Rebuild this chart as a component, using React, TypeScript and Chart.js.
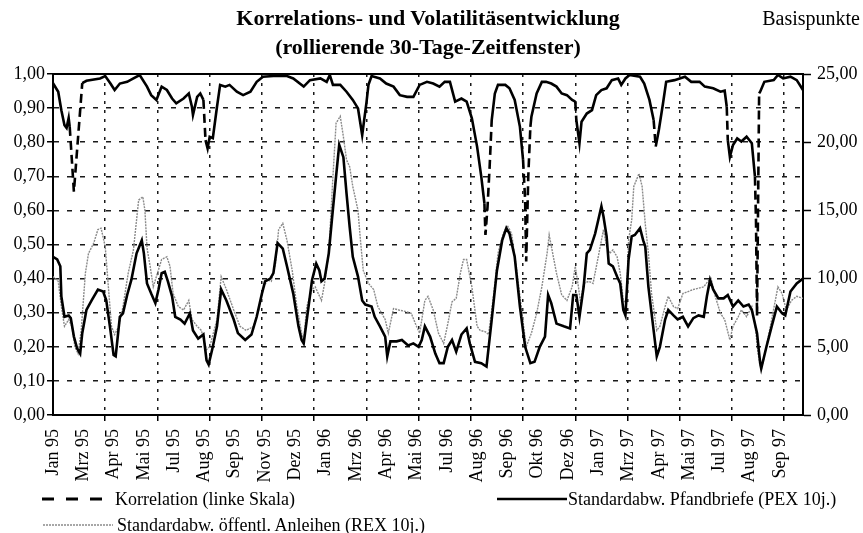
import React, { useEffect, useRef } from "react";
import { Chart, registerables } from "chart.js";

Chart.register(...registerables);

// ---- data -------------------------------------------------------------
// x = trading-day index since start of Jan 1995; labels every 29 days, grid every 50
const X_LABELS = [
  "Jan 95", "Mrz 95", "Apr 95", "Mai 95", "Jul 95", "Aug 95", "Sep 95", "Nov 95", "Dez 95",
  "Jan 96", "Mrz 96", "Apr 96", "Mai 96", "Jul 96", "Aug 96", "Sep 96", "Okt 96", "Dez 96",
  "Jan 97", "Mrz 97", "Apr 97", "Mai 97", "Jul 97", "Aug 97", "Sep 97",
];
const LABEL_STEP = 29;
const GRID_STEP = 50;
const X_MAX = 718;

const CORR_DAYS = [
  0, 5, 8, 11, 13, 15, 16, 20, 28, 32, 45, 50, 55, 59, 64, 71, 77, 83, 90, 94, 99, 104, 109, 114, 118,
  125, 130, 133, 134, 138, 141, 144, 146, 148, 150, 153, 157, 160, 165, 169, 176, 182, 189, 195, 201,
  211, 224, 230, 240, 246, 256, 262, 265, 268, 275, 281, 287, 292, 296, 300, 302, 305, 313, 319, 326,
  332, 339, 345, 351, 358, 364, 370, 375, 380, 385, 391, 396, 401, 406, 410, 413, 414, 416, 418, 420,
  423, 426, 433, 437, 442, 447, 450, 452, 453, 455, 457, 458, 463, 468, 472, 477, 482, 487, 492, 497,
  500, 501, 504, 506, 511, 516, 520, 525, 530, 535, 541, 544, 548, 552, 562, 566, 571, 575, 577, 580,
  584, 587, 595, 605, 611, 619, 624, 632, 639, 643, 645, 646, 648, 651, 655, 659, 664, 669, 672, 673,
  674, 676, 677, 681, 690, 694, 699, 706, 712, 718,
];
const CORR_VALUES = [
  0.973, 0.948, 0.894, 0.85, 0.842, 0.871, 0.845, 0.655, 0.973, 0.98, 0.987, 0.994, 0.972, 0.953, 0.972,
  0.977, 0.987, 0.997, 0.963, 0.938, 0.924, 0.963, 0.953, 0.928, 0.914, 0.928, 0.943, 0.904, 0.88,
  0.933, 0.943, 0.924, 0.806, 0.782, 0.816, 0.812, 0.904, 0.968, 0.963, 0.968, 0.948, 0.938, 0.948,
  0.977, 0.992, 0.994, 0.994, 0.987, 0.963, 0.982, 0.987, 0.977, 0.997, 0.968, 0.968, 0.948, 0.924,
  0.899, 0.821, 0.914, 0.968, 0.994, 0.987, 0.972, 0.963, 0.938, 0.933, 0.933, 0.968, 0.977, 0.972,
  0.963, 0.977, 0.977, 0.919, 0.928, 0.919, 0.87, 0.787, 0.699, 0.621, 0.528, 0.611, 0.728, 0.865,
  0.943, 0.968, 0.968, 0.958, 0.924, 0.845, 0.748, 0.63, 0.45, 0.7, 0.845, 0.875, 0.943, 0.977, 0.977,
  0.972, 0.963, 0.943, 0.938, 0.924, 0.919, 0.865, 0.797, 0.86, 0.884, 0.894, 0.938, 0.953, 0.958,
  0.982, 0.987, 0.968, 0.987, 0.997, 0.992, 0.972, 0.924, 0.865, 0.787, 0.836, 0.914, 0.977, 0.982,
  0.992, 0.977, 0.977, 0.963, 0.958, 0.948, 0.951, 0.904, 0.806, 0.757, 0.792, 0.811, 0.802, 0.816,
  0.797, 0.699, 0.57, 0.29, 0.943, 0.948, 0.977, 0.982, 0.997, 0.987, 0.992, 0.982, 0.953,
];

// Standard deviation Pfandbriefe (PEX 10j.), basis points
const PEX_DAYS = [
  0, 4, 7, 8, 11, 15, 17, 20, 23, 26, 28, 32, 37, 43, 48, 51, 55, 58, 60, 64, 67, 71, 75, 80, 85, 87,
  90, 94, 98, 101, 104, 107, 110, 114, 117, 122, 126, 131, 134, 139, 144, 147, 149, 153, 157, 161, 166,
  173, 177, 184, 190, 195, 200, 203, 208, 211, 215, 220, 224, 230, 235, 238, 240, 243, 248, 252, 255,
  257, 260, 264, 267, 271, 274, 278, 281, 284, 287, 292, 296, 299, 305, 308, 313, 318, 320, 323, 329,
  334, 340, 345, 350, 353, 356, 361, 366, 370, 374, 378, 382, 386, 391, 396, 399, 404, 410, 415, 420,
  425, 430, 434, 437, 442, 447, 452, 457, 461, 466, 471, 474, 477, 482, 489, 495, 498, 501, 504, 508,
  511, 514, 519, 522, 525, 527, 530, 532, 536, 540, 543, 546, 548, 551, 554, 557, 562, 565, 567, 570,
  575, 578, 581, 586, 589, 594, 598, 603, 608, 613, 618, 623, 626, 629, 632, 637, 642, 646, 651, 656,
  661, 666, 669, 674, 677, 678, 683, 688, 693, 698, 701, 706, 712, 718,
];
const PEX_VALUES = [
  11.6, 11.4, 10.9, 8.7, 7.2, 7.3, 7.1, 5.75, 4.9, 4.5, 6.0, 7.7, 8.4, 9.2, 9.05, 8.4, 6.2, 4.4, 4.3,
  7.2, 7.45, 8.8, 9.9, 11.85, 12.8, 11.85, 9.65, 8.9, 8.2, 9.2, 10.4, 10.5, 9.8, 8.7, 7.2, 7.0, 6.7,
  7.45, 6.2, 5.6, 5.9, 4.0, 3.7, 5.0, 6.5, 9.2, 8.4, 7.0, 6.0, 5.5, 5.9, 7.2, 8.9, 9.8, 10.0, 10.4, 12.6,
  12.2, 10.9, 8.9, 6.5, 5.5, 5.25, 7.0, 9.9, 11.1, 10.6, 9.8, 10.0, 11.85, 14.3, 17.5, 19.8, 18.9,
  16.25, 13.8, 11.6, 10.15, 8.4, 8.1, 7.95, 7.2, 6.5, 5.75, 4.3, 5.4, 5.4, 5.5, 5.1, 5.25, 5.0, 5.5,
  6.5, 5.75, 4.5, 3.8, 3.8, 5.0, 5.5, 4.65, 5.9, 6.35, 5.25, 3.9, 3.8, 3.55, 7.0, 10.6, 12.8, 13.7,
  13.3, 11.6, 7.95, 5.0, 3.8, 3.9, 5.0, 5.75, 8.8, 8.2, 6.7, 6.5, 6.35, 8.8, 8.8, 7.2, 9.4, 11.85,
  12.1, 13.3, 14.3, 15.3, 14.55, 13.1, 11.1, 10.9, 10.15, 9.65, 7.7, 7.3, 11.4, 13.1, 13.2, 13.7,
  12.8, 12.35, 9.4, 6.2, 4.3, 5.0, 7.0, 7.7, 7.3, 7.0, 7.2, 6.5, 7.1, 7.3, 7.2, 8.7, 9.9, 9.2, 8.55,
  8.55, 8.8, 7.95, 8.4, 7.95, 8.1, 7.7, 6.0, 3.8, 3.4, 5.0, 6.5, 7.95, 7.45, 7.3, 9.05, 9.65, 10.0,
];

// Standard deviation öffentl. Anleihen (REX 10j.), basis points
const REX_DAYS = [
  0, 5, 8, 11, 15, 18, 21, 24, 27, 31, 34, 39, 43, 46, 50, 53, 56, 59, 63, 67, 72, 77, 80, 82, 86, 88,
  90, 93, 96, 99, 104, 109, 112, 115, 120, 125, 130, 133, 138, 142, 147, 150, 157, 161, 166, 173, 179,
  185, 192, 197, 201, 205, 209, 213, 216, 220, 224, 229, 233, 238, 240, 243, 248, 251, 254, 257, 260,
  264, 268, 271, 275, 278, 281, 284, 287, 292, 294, 297, 302, 307, 311, 318, 321, 326, 331, 337, 343,
  348, 351, 356, 359, 364, 369, 374, 378, 382, 386, 390, 393, 396, 401, 406, 409, 414, 417, 422, 426,
  431, 435, 439, 444, 449, 453, 458, 463, 468, 473, 475, 479, 482, 487, 492, 497, 500, 503, 505, 508,
  513, 517, 522, 527, 530, 533, 536, 540, 543, 546, 549, 551, 554, 556, 561, 564, 567, 570, 573, 578,
  581, 586, 589, 594, 598, 603, 608, 613, 618, 623, 627, 630, 634, 639, 643, 648, 651, 656, 659, 664,
  669, 672, 675, 678, 681, 686, 691, 694, 698, 702, 707, 712, 718,
];
const REX_VALUES = [
  10.15, 9.8, 7.95, 6.5, 7.0, 6.5, 5.0, 4.5, 6.2, 10.4, 11.85, 12.6, 13.6, 13.7, 12.35, 9.4, 6.5, 5.9,
  6.5, 7.95, 10.4, 12.1, 14.3, 15.75, 16.0, 15.0, 12.25, 10.9, 9.4, 10.15, 11.4, 11.6, 10.9, 8.9, 7.95,
  7.7, 8.4, 7.0, 6.5, 6.2, 4.8, 5.0, 7.0, 10.15, 9.2, 7.7, 6.5, 6.2, 6.5, 7.7, 9.2, 9.9, 9.8, 11.1,
  13.6, 14.05, 12.8, 10.6, 8.2, 6.0, 5.5, 7.95, 9.2, 9.4, 8.9, 8.4, 9.65, 11.85, 17.5, 21.4, 21.9,
  20.4, 18.7, 18.2, 16.75, 15.0, 13.1, 10.6, 9.65, 9.2, 7.95, 7.0, 6.0, 7.8, 7.7, 7.6, 7.45, 6.5, 6.0,
  8.4, 8.7, 7.7, 6.0, 5.25, 6.7, 8.3, 8.55, 10.4, 11.4, 11.4, 9.4, 6.5, 6.2, 6.1, 5.9, 8.9, 11.85,
  13.3, 13.9, 13.3, 10.6, 7.45, 5.0, 6.0, 7.45, 9.4, 11.85, 13.2, 11.6, 10.4, 8.8, 8.4, 9.4, 10.9,
  9.4, 8.2, 9.65, 9.8, 9.65, 11.6, 13.6, 12.35, 11.85, 12.1, 11.6, 10.4, 8.4, 8.2, 12.8, 14.3, 16.75,
  17.7, 16.75, 14.0, 11.85, 8.9, 6.2, 6.5, 7.95, 8.7, 7.95, 7.8, 8.9, 9.05, 9.2, 9.3, 9.4, 9.8, 10.0,
  8.7, 7.45, 7.0, 5.5, 6.5, 7.2, 7.7, 7.2, 7.95, 6.7, 4.5, 3.3, 4.3, 6.2, 8.2, 9.4, 8.9, 7.7, 8.4, 8.7,
  8.55,
];

const LEFT_TICK_STEP = 0.1;
const RIGHT_TICK_STEP = 5;

const TITLE_1 = "Korrelations- und Volatilitäsentwicklung";
const TITLE_2 = "(rollierende 30-Tage-Zeitfenster)";
const RIGHT_UNIT = "Basispunkte";
const SERIES_NAMES = [
  "Korrelation (linke Skala)",
  "Standardabw. Pfandbriefe (PEX 10j.)",
  "Standardabw. öffentl. Anleihen (REX 10j.)",
];

// ---- helpers ----------------------------------------------------------
const toPoints = (xs: number[], ys: number[]) => xs.map((x, i) => ({ x, y: ys[i] }));
const fmt = (v: number) => Number(v).toFixed(2).replace(".", ",");
const SERIF = "'Liberation Serif', 'DejaVu Serif', serif";
const GRID_COLOR = "#1a1a1a";
const REX_COLOR = "#8a8a8a";

const framePlugin = {
  id: "frame",
  beforeDatasetsDraw(chart: any) {
    const { ctx, chartArea: a } = chart;
    ctx.save();
    ctx.strokeStyle = "#000";
    ctx.lineWidth = 2;
    ctx.strokeRect(a.left, a.top, a.right - a.left, a.bottom - a.top);
    ctx.restore();
  },
};

export default function App() {
  const ref = useRef<HTMLCanvasElement | null>(null);

  useEffect(() => {
    if (!ref.current) return;
    const labelTicks = X_LABELS.map((_, i) => i * LABEL_STEP);
    const gridTicks: number[] = [];
    for (let v = GRID_STEP; v < X_MAX; v += GRID_STEP) gridTicks.push(v);
    const allTicks = Array.from(new Set([...labelTicks, ...gridTicks])).sort((a, b) => a - b);
    const isGrid = (v: number) => v > 0 && v < X_MAX && v % GRID_STEP === 0;

    const chart = new Chart(ref.current, {
      type: "line",
      data: {
        datasets: [
          {
            label: SERIES_NAMES[0],
            data: toPoints(CORR_DAYS, CORR_VALUES),
            yAxisID: "y",
            borderColor: "#000",
            borderWidth: 2.6,
            pointRadius: 0,
            tension: 0,
            segment: {
              borderDash: (c: any) => {
                const dx = Math.abs(c.p1.x - c.p0.x);
                const dy = Math.abs(c.p1.y - c.p0.y);
                return dy > 10 && dy / Math.max(dx, 0.5) > 11 ? [9, 5] : undefined;
              },
            },
          },
          {
            label: SERIES_NAMES[1],
            data: toPoints(PEX_DAYS, PEX_VALUES),
            yAxisID: "y1",
            borderColor: "#000",
            borderWidth: 2.6,
            pointRadius: 0,
            tension: 0,
          },
          {
            label: SERIES_NAMES[2],
            data: toPoints(REX_DAYS, REX_VALUES),
            yAxisID: "y1",
            borderColor: REX_COLOR,
            borderWidth: 1.4,
            borderDash: [2, 1],
            pointRadius: 0,
            tension: 0,
          },
        ],
      },
      options: {
        animation: false,
        responsive: false,
        maintainAspectRatio: false,
        layout: { padding: { top: 74, left: 0, right: 0, bottom: 0 } },
        plugins: { legend: { display: false }, title: { display: false }, tooltip: { enabled: false } },
        scales: {
          x: {
            type: "linear",
            min: 0,
            max: X_MAX,
            afterBuildTicks: (s: any) => {
              s.ticks = allTicks.map((value) => ({ value }));
            },
            afterFit: (s: any) => {
              s.height = 118;
            },
            grid: {
              color: (c: any) => (c.tick && isGrid(c.tick.value) ? GRID_COLOR : "transparent"),
              tickColor: (c: any) => (c.tick && isGrid(c.tick.value) ? "#000" : "transparent"),
              lineWidth: 1.5,
              tickWidth: 1.5,
              tickLength: 6,
            },
            border: { display: true, color: "#000", width: 2, dash: [3, 6] },
            ticks: {
              autoSkip: false,
              maxRotation: 90,
              minRotation: 90,
              padding: 8,
              color: "#000",
              font: { family: SERIF, size: 18 },
              callback: (v: any) => (Number(v) % LABEL_STEP === 0 ? X_LABELS[Number(v) / LABEL_STEP] : ""),
            },
          },
          y: {
            position: "left",
            min: 0,
            max: 1,
            afterFit: (s: any) => {
              s.width = 53;
            },
            grid: {
              color: (c: any) =>
                c.tick && c.tick.value > 0.001 && c.tick.value < 0.999 ? GRID_COLOR : "transparent",
              tickColor: "#000",
              lineWidth: 1.5,
              tickWidth: 1.5,
              tickLength: 6,
            },
            border: { display: true, color: "#000", width: 2, dash: [5, 8] },
            ticks: {
              stepSize: LEFT_TICK_STEP,
              padding: 2,
              color: "#000",
              font: { family: SERIF, size: 18 },
              callback: (v: any) => fmt(v),
            },
          },
          y1: {
            position: "right",
            min: 0,
            max: 25,
            afterFit: (s: any) => {
              s.width = 60;
            },
            grid: { drawOnChartArea: false, tickColor: "#000", tickWidth: 1.5, tickLength: 8 },
            border: { display: true, color: "#000", width: 2 },
            ticks: {
              stepSize: RIGHT_TICK_STEP,
              padding: 6,
              color: "#000",
              font: { family: SERIF, size: 18 },
              callback: (v: any) => fmt(v),
            },
          },
        },
      },
      plugins: [framePlugin],
    } as any);
    return () => chart.destroy();
  }, []);

  const textBase: React.CSSProperties = { position: "absolute", fontFamily: SERIF, color: "#000", whiteSpace: "nowrap" };

  return (
    <div style={{ position: "fixed", left: 0, top: 0, width: 863, height: 533, background: "#fff" }}>
      <canvas ref={ref} width={863} height={533} style={{ position: "absolute", left: 0, top: 0, width: 863, height: 533 }} />
      <div style={{ ...textBase, left: 0, width: 856, top: 3, textAlign: "center", fontWeight: "bold", fontSize: 22, lineHeight: "29px" }}>
        <div>{TITLE_1}</div>
        <div>{TITLE_2}</div>
      </div>
      <div style={{ ...textBase, right: 3, top: 7, fontSize: 20 }}>{RIGHT_UNIT}</div>
      <div style={{ ...textBase, left: 42, top: 487, height: 24, fontSize: 18, display: "flex", alignItems: "center" }}>
        <svg width="64" height="10" style={{ marginRight: 9 }}>
          <line x1="0" y1="5" x2="62" y2="5" stroke="#000" strokeWidth="2.8" strokeDasharray="12 12" />
        </svg>
        <span>{SERIES_NAMES[0]}</span>
      </div>
      <div style={{ ...textBase, left: 497, top: 487, height: 24, fontSize: 18, display: "flex", alignItems: "center" }}>
        <svg width="70" height="10" style={{ marginRight: 1 }}>
          <line x1="0" y1="5" x2="70" y2="5" stroke="#000" strokeWidth="2.6" />
        </svg>
        <span>{SERIES_NAMES[1]}</span>
      </div>
      <div style={{ ...textBase, left: 43, top: 513, height: 24, fontSize: 18, display: "flex", alignItems: "center" }}>
        <svg width="70" height="10" style={{ marginRight: 4 }}>
          <line x1="0" y1="5" x2="70" y2="5" stroke={REX_COLOR} strokeWidth="1.4" strokeDasharray="2 1" />
        </svg>
        <span>{SERIES_NAMES[2]}</span>
      </div>
    </div>
  );
}
